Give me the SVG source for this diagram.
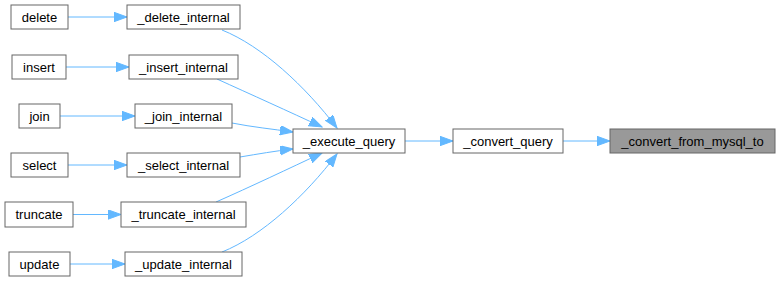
<svg xmlns="http://www.w3.org/2000/svg" width="779" height="282" viewBox="0 0 779 282">
  <style>
    .node rect { fill: #ffffff; stroke: #666666; stroke-width: 1; }
    .node.hl rect { fill: #999999; }
    .node text { font-family: "Liberation Sans", Arial, sans-serif; font-size: 13px; fill: #000000; text-anchor: middle; }
    .edge { fill: none; stroke: #63b8ff; stroke-width: 1; marker-end: url(#arrow); }
  </style>
  <defs>
    <marker id="arrow" markerUnits="userSpaceOnUse" markerWidth="14" markerHeight="10" refX="13" refY="4.7" orient="auto">
      <path d="M0,0 L13,4.7 L0,9.4 z" fill="#63b8ff" stroke="#63b8ff" stroke-width="1"/>
    </marker>
  </defs>

  <g id="connectors">
    <path class="edge" d="M68,17 L127,17"/>
    <path class="edge" d="M66,67 L129,67"/>
    <path class="edge" d="M60,116 L135,116"/>
    <path class="edge" d="M68,165 L127,165"/>
    <path class="edge" d="M73,214.5 L121,214.5"/>
    <path class="edge" d="M70,264 L125,264"/>
    <path class="edge" d="M222,30 C262,46 305,86 337,128"/>
    <path class="edge" d="M217,79 C250,94 290,112 322,127"/>
    <path class="edge" d="M232,123 C252,127 272,129 293,132"/>
    <path class="edge" d="M240,157 C258,154 275,151 293,149"/>
    <path class="edge" d="M216,202 C250,187 290,168 322,153"/>
    <path class="edge" d="M222,252 C262,236 305,196 337,154"/>
    <path class="edge" d="M405,141 L453,141"/>
    <path class="edge" d="M563,141 L610,141"/>
  </g>

  <g id="node-delete" class="node"><rect x="11" y="5" width="57" height="24"/><text x="39.5" y="21.5">delete</text></g>
  <g id="node-delete-internal" class="node"><rect x="127" y="5" width="113" height="24"/><text x="183.5" y="21.5">_delete_internal</text></g>
  <g id="node-insert" class="node"><rect x="12" y="55" width="54" height="24"/><text x="39" y="71.5">insert</text></g>
  <g id="node-insert-internal" class="node"><rect x="129" y="55" width="109" height="24"/><text x="183.5" y="71.5">_insert_internal</text></g>
  <g id="node-join" class="node"><rect x="19" y="104" width="41" height="24"/><text x="39.5" y="120.5">join</text></g>
  <g id="node-join-internal" class="node"><rect x="135" y="104" width="97" height="24"/><text x="183.5" y="120.5">_join_internal</text></g>
  <g id="node-select" class="node"><rect x="11" y="153" width="57" height="24"/><text x="39.5" y="169.5">select</text></g>
  <g id="node-select-internal" class="node"><rect x="127" y="153" width="113" height="24"/><text x="183.5" y="169.5">_select_internal</text></g>
  <g id="node-truncate" class="node"><rect x="5" y="202" width="68" height="25"/><text x="39" y="219">truncate</text></g>
  <g id="node-truncate-internal" class="node"><rect x="121" y="202" width="125" height="25"/><text x="183.5" y="219">_truncate_internal</text></g>
  <g id="node-update" class="node"><rect x="9" y="252" width="61" height="24"/><text x="39.5" y="268.5">update</text></g>
  <g id="node-update-internal" class="node"><rect x="125" y="252" width="117" height="24"/><text x="183.5" y="268.5">_update_internal</text></g>
  <g id="node-execute-query" class="node"><rect x="293" y="129" width="112" height="24"/><text x="349" y="145.5">_execute_query</text></g>
  <g id="node-convert-query" class="node"><rect x="453" y="129" width="110" height="24"/><text x="508" y="145.5">_convert_query</text></g>
  <g id="node-convert-from-mysql-to" class="node hl"><rect x="610" y="129" width="165" height="24"/><text x="692.5" y="145.5">_convert_from_mysql_to</text></g>
</svg>
